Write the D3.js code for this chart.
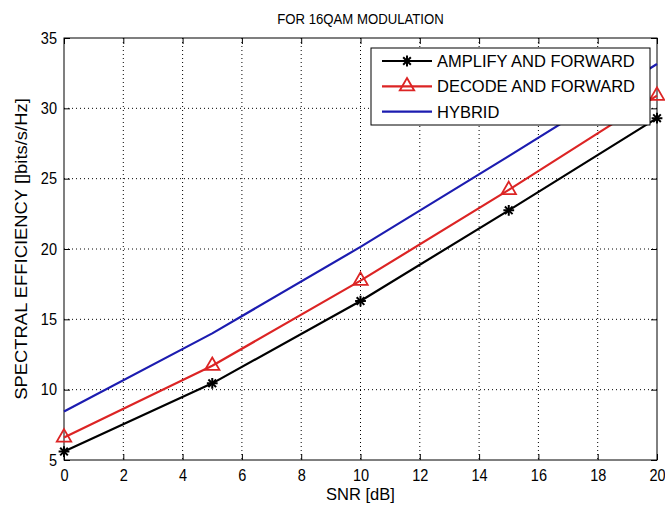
<!DOCTYPE html>
<html>
<head>
<meta charset="utf-8">
<script src="https://cdn.jsdelivr.net/npm/d3@7"></script>
<style>
  html, body { margin: 0; padding: 0; background: #fff; overflow: hidden; }
  svg { display: block; }
  text { font-family: "Liberation Sans", Arial, sans-serif; fill: #000; }
</style>
</head>
<body>
<svg id="chart"></svg>
<script>
const snr = [0, 5, 10, 15, 20];
const amplifyForward = [5.6, 10.45, 16.3, 22.75, 29.3];
const decodeForward = [6.6, 11.7, 17.75, 24.2, 30.9];
const hybrid = [8.45, 14.0, 20.15, 26.6, 33.15];
const xTicks = [0, 2, 4, 6, 8, 10, 12, 14, 16, 18, 20];
const yTicks = [5, 10, 15, 20, 25, 30, 35];

const width = 665;
const height = 507;
const margin = { top: 38, bottom: 47, left: 64, right: 8 };
const innerWidth = width - margin.left - margin.right;
const innerHeight = height - margin.top - margin.bottom;

const svg = d3.select('#chart')
  .attr('width', width)
  .attr('height', height);

const g = svg.append('g')
  .attr('transform', `translate(${margin.left}, ${margin.top})`);

const xScale = d3.scaleLinear().domain([0, 20]).range([0, innerWidth]);
const yScale = d3.scaleLinear().domain([5, 35]).range([innerHeight, 0]);

// dotted grid
g.append('g')
  .selectAll('line')
  .data(xTicks.slice(1, -1))
  .join('line')
    .attr('x1', d => xScale(d)).attr('x2', d => xScale(d))
    .attr('y1', 0).attr('y2', innerHeight)
    .attr('stroke', '#000')
    .attr('stroke-width', 1)
    .attr('stroke-dasharray', '1,3');

g.append('g')
  .selectAll('line')
  .data(yTicks.slice(1, -1))
  .join('line')
    .attr('x1', 0).attr('x2', innerWidth)
    .attr('y1', d => yScale(d)).attr('y2', d => yScale(d))
    .attr('stroke', '#000')
    .attr('stroke-width', 1)
    .attr('stroke-dasharray', '1,3');

// axes, ticks pointing inward on all four sides
const fmt = d3.format('d');
g.append('g')
  .attr('transform', `translate(0, ${innerHeight})`)
  .call(d3.axisBottom(xScale).tickValues(xTicks).tickFormat(fmt).tickSizeInner(-6).tickSizeOuter(0).tickPadding(9));
g.append('g')
  .call(d3.axisLeft(yScale).tickValues(yTicks).tickFormat(fmt).tickSizeInner(-6).tickSizeOuter(0).tickPadding(8));
g.append('g')
  .call(d3.axisTop(xScale).tickValues(xTicks).tickSizeInner(-6).tickSizeOuter(0))
  .selectAll('text').remove();
g.append('g')
  .attr('transform', `translate(${innerWidth}, 0)`)
  .call(d3.axisRight(yScale).tickValues(yTicks).tickSizeInner(-6).tickSizeOuter(0))
  .selectAll('text').remove();

g.selectAll('.domain').remove();
g.selectAll('.tick line').attr('stroke', '#000');
g.selectAll('.tick text')
  .attr('font-size', 16.5)
  .attr('transform', 'scale(0.88, 1)')
  .style('font-family', '"Liberation Sans", Arial, sans-serif');

g.append('rect')
  .attr('width', innerWidth)
  .attr('height', innerHeight)
  .attr('fill', 'none')
  .attr('stroke', '#000')
  .attr('stroke-width', 1);

// series
const series = [
  { name: 'AMPLIFY AND FORWARD', values: amplifyForward, color: '#000000', marker: 'star' },
  { name: 'DECODE AND FORWARD', values: decodeForward, color: '#dc2424', marker: 'triangle' },
  { name: 'HYBRID', values: hybrid, color: '#1c1cb0', marker: null }
];

const line = d3.line()
  .x((d, i) => xScale(snr[i]))
  .y(d => yScale(d));

function drawMarker(sel, s) {
  if (s.marker === 'star') {
    sel.append('path')
      .attr('d', d3.symbol().type(d3.symbolTimes).size(40)())
      .attr('fill', 'none').attr('stroke', s.color).attr('stroke-width', 2);
    sel.append('path')
      .attr('d', d3.symbol().type(d3.symbolPlus).size(40)())
      .attr('fill', 'none').attr('stroke', s.color).attr('stroke-width', 2);
  } else if (s.marker === 'triangle') {
    sel.append('path')
      .attr('d', d3.symbol().type(d3.symbolTriangle).size(90)())
      .attr('fill', 'none').attr('stroke', s.color).attr('stroke-width', 1.8);
  }
}

series.forEach(s => {
  g.append('path')
    .datum(s.values)
    .attr('fill', 'none')
    .attr('stroke', s.color)
    .attr('stroke-width', 2.2)
    .attr('stroke-linejoin', 'round')
    .attr('d', line);

  if (s.marker) {
    s.values.forEach((v, i) => {
      const m = g.append('g')
        .attr('transform', `translate(${xScale(snr[i])}, ${yScale(v)})`);
      drawMarker(m, s);
    });
  }
});

// legend
const legend = g.append('g')
  .attr('transform', `translate(${371 - margin.left}, ${48 - margin.top})`);

legend.append('rect')
  .attr('width', 279)
  .attr('height', 77)
  .attr('fill', '#fff')
  .attr('stroke', '#000')
  .attr('stroke-width', 1);

series.forEach((s, i) => {
  const y = 13 + i * 25.3;
  legend.append('line')
    .attr('x1', 11).attr('x2', 61)
    .attr('y1', y).attr('y2', y)
    .attr('stroke', s.color)
    .attr('stroke-width', 2.2);
  const m = legend.append('g').attr('transform', `translate(36, ${y})`);
  drawMarker(m, s);
  legend.append('text')
    .attr('x', 66)
    .attr('y', y)
    .attr('dy', '0.36em')
    .attr('font-size', 16.5)
    .text(s.name);
});

// titles
svg.append('text')
  .attr('transform', `translate(${margin.left + innerWidth / 2}, 24) scale(0.85, 1)`)
  .attr('text-anchor', 'middle')
  .attr('font-size', 15.5)
  .text('FOR 16QAM MODULATION');

svg.append('text')
  .attr('x', margin.left + innerWidth / 2)
  .attr('y', 500)
  .attr('text-anchor', 'middle')
  .attr('font-size', 16.5)
  .text('SNR [dB]');

svg.append('text')
  .attr('transform', `translate(27, ${margin.top + innerHeight / 2}) rotate(-90) scale(1.15, 1)`)
  .attr('text-anchor', 'middle')
  .attr('font-size', 16)
  .text('SPECTRAL EFFICIENCY []bits/s/Hz]');
</script>
</body>
</html>
